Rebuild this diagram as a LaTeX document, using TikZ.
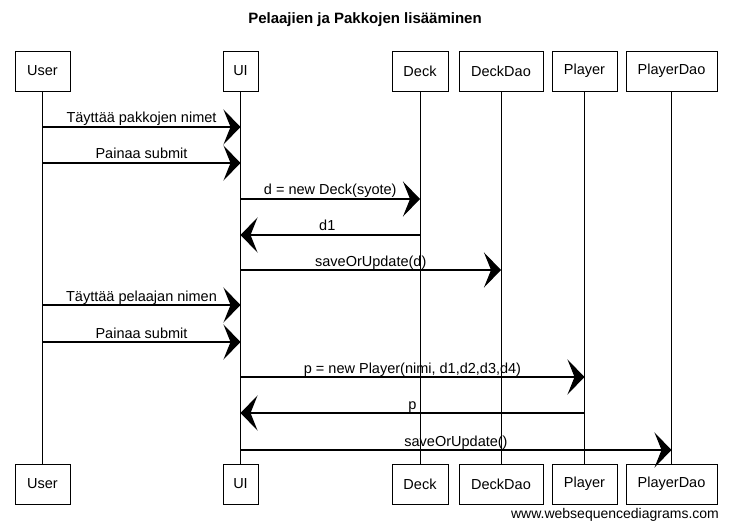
\documentclass[tikz,border=0pt]{standalone}
\usepackage{fontspec}
\setmainfont{Liberation Sans}
\usetikzlibrary{arrows.meta}
\begin{document}
\begin{tikzpicture}[x=1pt,y=-1pt,
  actor/.style={draw, line width=0.8pt, minimum height=40pt, inner sep=0pt, font=\fontsize{14.5}{17}\selectfont},
  life/.style={line width=0.7pt},
  msg/.style={line width=1.1pt, -{Stealth[length=17pt,width=35pt,inset=7pt]}},
  lbl/.style={font=\fontsize{14.5}{17}\selectfont, inner sep=0pt, anchor=base, yshift=4pt}]
\useasboundingbox (0,0) rectangle (730,529);
\node[font=\bfseries\fontsize{15}{18}\selectfont] (title) at (365,20) {Pelaajien ja Pakkojen lisääminen};
% top actors
\node[actor, minimum width=55pt] (ut) at (42.5,71) {User};
\node[actor, minimum width=35pt] (it) at (240.5,71) {UI};
\node[actor, minimum width=56pt] (dt) at (420,71) {Deck};
\node[actor, minimum width=84pt] (ddt) at (501,71) {DeckDao};
\node[actor, minimum width=65pt] (pt) at (584.5,71) {Player};
\node[actor, minimum width=91pt] (pdt) at (671.5,71) {PlayerDao};
% bottom actors
\node[actor, minimum width=55pt] (ub) at (42.5,484) {User};
\node[actor, minimum width=35pt] (ib) at (240.5,484) {UI};
\node[actor, minimum width=56pt] (db) at (420,484) {Deck};
\node[actor, minimum width=84pt] (ddb) at (501,484) {DeckDao};
\node[actor, minimum width=65pt] (pb) at (584.5,484) {Player};
\node[actor, minimum width=91pt] (pdb) at (671.5,484) {PlayerDao};
% lifelines
\draw[life] (ut.south) -- (ub.north);
\draw[life] (it.south) -- (ib.north);
\draw[life] (dt.south) -- (db.north);
\draw[life] (ddt.south) -- (ddb.north);
\draw[life] (pt.south) -- (pb.north);
\draw[life] (pdt.south) -- (pdb.north);
% message endpoints
\coordinate (m1a) at (42.5,127); \coordinate (m1b) at (240.5,127);
\coordinate (m2a) at (42.5,163); \coordinate (m2b) at (240.5,163);
\coordinate (m3a) at (240.5,199); \coordinate (m3b) at (420,199);
\coordinate (m4a) at (420,235); \coordinate (m4b) at (240.5,235);
\coordinate (m5a) at (240.5,270); \coordinate (m5b) at (501,270);
\coordinate (m6a) at (42.5,305); \coordinate (m6b) at (240.5,305);
\coordinate (m7a) at (42.5,342); \coordinate (m7b) at (240.5,342);
\coordinate (m8a) at (240.5,377); \coordinate (m8b) at (584.5,377);
\coordinate (m9a) at (584.5,413); \coordinate (m9b) at (240.5,413);
\coordinate (m10a) at (240.5,450); \coordinate (m10b) at (671.5,450);
% messages
\draw[msg] (m1a) -- node[lbl] {Täyttää pakkojen nimet} (m1b);
\draw[msg] (m2a) -- node[lbl] {Painaa submit} (m2b);
\draw[msg] (m3a) -- node[lbl] {d = new Deck(syote)} (m3b);
\draw[msg] (m4a) -- node[lbl, xshift=-3pt] {d1} (m4b);
\draw[msg] (m5a) -- node[lbl] {saveOrUpdate(d)} (m5b);
\draw[msg] (m6a) -- node[lbl] {Täyttää pelaajan nimen} (m6b);
\draw[msg] (m7a) -- node[lbl] {Painaa submit} (m7b);
\draw[msg] (m8a) -- node[lbl] {p = new Player(nimi, d1,d2,d3,d4)} (m8b);
\draw[msg] (m9a) -- node[lbl] {p} (m9b);
\draw[msg] (m10a) -- node[lbl] {saveOrUpdate()} (m10b);
\node[font=\fontsize{14}{16}\selectfont] (footer) at (615,515) {www.websequencediagrams.com};
\end{tikzpicture}
\end{document}
